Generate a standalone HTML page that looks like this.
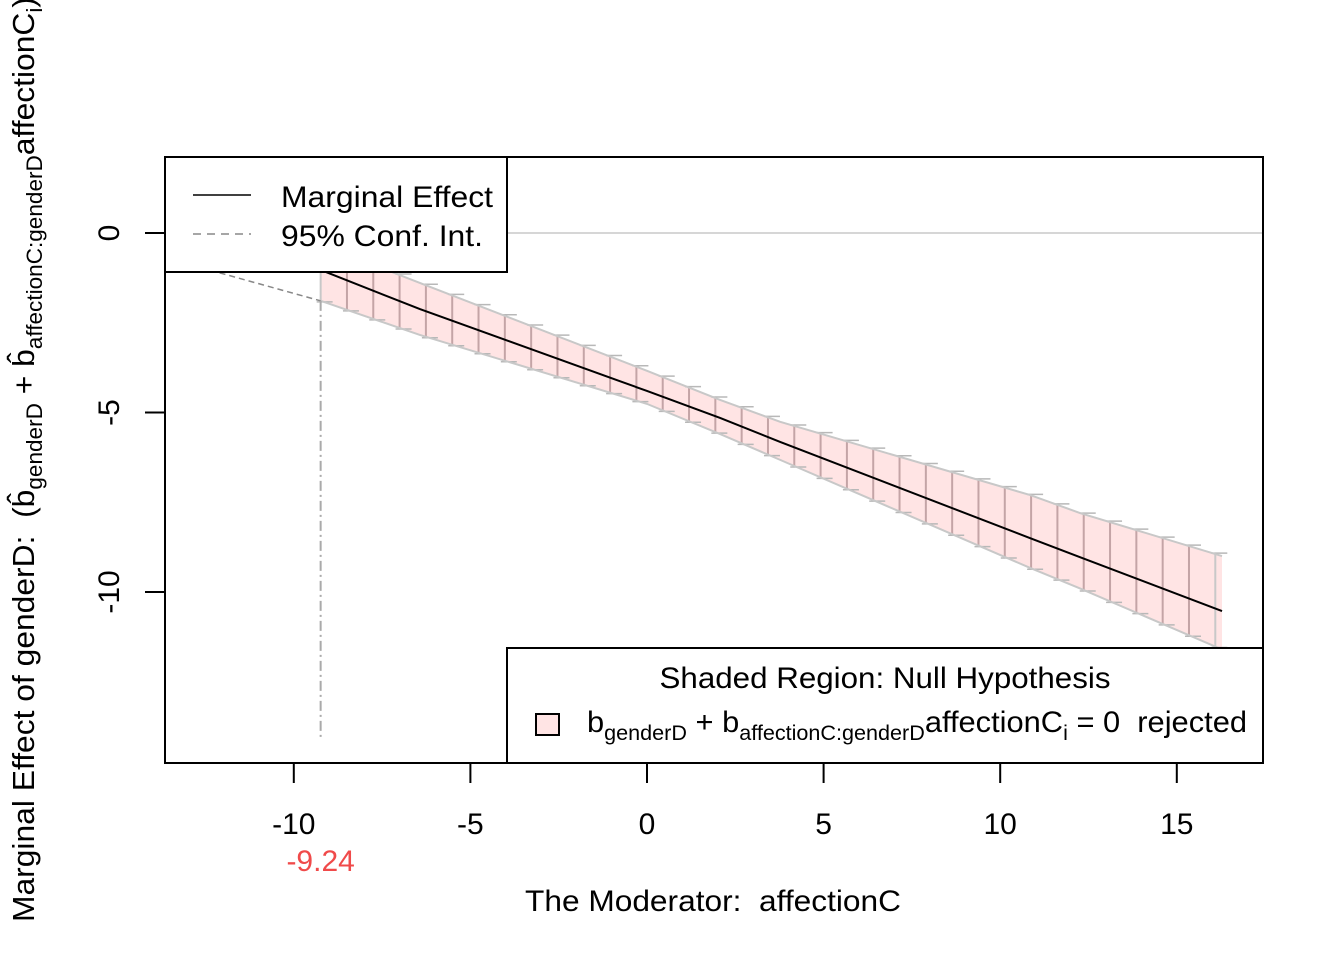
<!DOCTYPE html>
<html><head><meta charset="utf-8"><style>
html,body{margin:0;padding:0;background:#fff;}
svg{display:block;font-family:"Liberation Sans",Arial,sans-serif;}
text{white-space:pre;}
</style></head><body>
<svg id="chart" width="1344" height="960" viewBox="0 0 1344 960" xmlns="http://www.w3.org/2000/svg">
<g id="plot"></g>
<g id="axes"></g>
</svg>
<script>
const moderatorX = [-9.24, -6.43, 0, 2.07, 3.77, 10.85, 12.26, 16.28];
const effectEst = [-1.03, -2.12, -4.4, -5.15, -5.82, -8.5, -9.03, -10.53];
const ciLower = [-1.89, -2.84, -4.76, -5.6, -6.32, -9.33, -9.9, -11.6];
const ciUpper = [-0.32, -1.39, -3.84, -4.65, -5.26, -7.3, -7.8, -9.0];
const leftTailX = [-12.1, -9.24];
const leftTailLower = [-1.11, -1.89];
const xTicks = [-10, -5, 0, 5, 10, 15];
const xTickLabels = ["-10", "-5", "0", "5", "10", "15"];
const yTicks = [0, -5, -10];
const yTickLabels = ["0", "-5", "-10"];
const criticalValue = -9.24;
const hatchStep = 0.745;

const NS = "http://www.w3.org/2000/svg";
const X0 = 647, XS = 35.32, Y0 = 233, YS = 35.9;
const L = 165, R = 1263, T = 157, B = 763;
function xs(v){return X0 + v*XS;}
function ys(v){return Y0 - v*YS;}
function interp(arrX, arrY, v){
  for(let i=0;i<arrX.length-1;i++){
    if(v>=arrX[i] && v<=arrX[i+1]){const t=(v-arrX[i])/(arrX[i+1]-arrX[i]);return arrY[i]+t*(arrY[i+1]-arrY[i]);}
  }
  return v<arrX[0]?arrY[0]:arrY[arrY.length-1];
}
function mk(tag, attrs, parent){
  const e=document.createElementNS(NS,tag);
  for(const k in attrs) e.setAttribute(k, attrs[k]);
  parent.appendChild(e); return e;
}
const plot=document.getElementById('plot');
const axes=document.getElementById('axes');

const defs=mk('defs',{},plot);
const cp=mk('clipPath',{id:'clip'},defs);
mk('rect',{x:L,y:T,width:R-L,height:B-T},cp);
const g=mk('g',{'clip-path':'url(#clip)'},plot);

let zl=mk('line',{x1:L,x2:R,y1:ys(0),y2:ys(0),stroke:'#c8c8c8','stroke-width':1.5},g);



let pts=[];
moderatorX.forEach((x,i)=>pts.push(xs(x)+','+ys(ciUpper[i])));
for(let i=moderatorX.length-1;i>=0;i--) pts.push(xs(moderatorX[i])+','+ys(ciLower[i]));
let poly=mk('polygon',{points:pts.join(' '),fill:'#ffe4e4',stroke:'none'},g);



const x0=moderatorX[0], x1=moderatorX[moderatorX.length-1];
for(let v=x0; v<=x1+0.01; v+=hatchStep){
  const vv=Math.min(v,x1);
  const lo=interp(moderatorX,ciLower,vv), up=interp(moderatorX,ciUpper,vv);
  const first = vv===x0, last = Math.abs(vv-x1)<0.3;
  let hl=mk('line',{x1:xs(vv),x2:xs(vv),y1:ys(up),y2:ys(lo),stroke:(first||last)?'#c8c8c8':'#c4a4a6','stroke-width':2},g);
  
  
  let t1=mk('line',{x1:xs(vv)-4,x2:xs(vv)+12,y1:ys(up)-1,y2:ys(up)-1,stroke:'#b8b8b8','stroke-width':1.5},g);
  
  
  let t2=mk('line',{x1:xs(vv)-4,x2:xs(vv)+12,y1:ys(lo)+1,y2:ys(lo)+1,stroke:'#b8b8b8','stroke-width':1.5},g);
  
  
}
let up=mk('polyline',{points:moderatorX.map((x,i)=>xs(x)+','+ys(ciUpper[i])).join(' '),fill:'none',stroke:'#c8c8c8','stroke-width':2},g);


let lo=mk('polyline',{points:moderatorX.map((x,i)=>xs(x)+','+ys(ciLower[i])).join(' '),fill:'none',stroke:'#c8c8c8','stroke-width':2},g);


let lt=mk('polyline',{points:leftTailX.map((x,i)=>xs(x)+','+ys(leftTailLower[i])).join(' '),fill:'none',stroke:'#888','stroke-width':1.5,'stroke-dasharray':'6,4'},g);


let el=mk('polyline',{points:moderatorX.map((x,i)=>xs(x)+','+ys(effectEst[i])).join(' '),fill:'none',stroke:'#000','stroke-width':2},g);


let cv=mk('line',{x1:xs(criticalValue),x2:xs(criticalValue),y1:ys(interp(moderatorX,ciLower,criticalValue)),y2:740,stroke:'#aaa','stroke-width':2,'stroke-dasharray':'10,4,2,4'},g);



let fr=mk('rect',{x:L,y:T,width:R-L,height:B-T,fill:'none',stroke:'#000','stroke-width':2},axes);



xTicks.forEach((v,i)=>{
  let tk=mk('line',{x1:xs(v),x2:xs(v),y1:B,y2:B+20,stroke:'#000','stroke-width':2},axes);
  
  
  let tl=mk('text',{x:xs(v),y:834,'text-anchor':'middle','font-size':30},axes);
  tl.textContent=xTickLabels[i];
  
  
});
yTicks.forEach((v,i)=>{
  let tk=mk('line',{x1:L-20,x2:L,y1:ys(v),y2:ys(v),stroke:'#000','stroke-width':2},axes);
  
  
  let tl=mk('text',{x:0,y:0,'text-anchor':'middle','font-size':30,transform:'translate(119,'+ys(v)+') rotate(-90)'},axes);
  tl.textContent=yTickLabels[i];
  
  
});
let cl=mk('text',{x:xs(criticalValue),y:871,'text-anchor':'middle','font-size':30,fill:'#f04a4a'},axes);
cl.textContent=String(criticalValue);


</script>
<svg style="position:absolute;left:0;top:0" width="1344" height="960">
<g font-family="Liberation Sans, Arial, sans-serif">
<g>
<rect x="165" y="157" width="342" height="115" fill="#fff" stroke="#000" stroke-width="2"/>
<line x1="193" x2="251" y1="195" y2="195" stroke="#000" stroke-width="1.5"/>
<line x1="193" x2="251" y1="234" y2="234" stroke="#888" stroke-width="1.5" stroke-dasharray="8,6"/>
<text x="281" y="207" font-size="30" textLength="212" lengthAdjust="spacingAndGlyphs">Marginal Effect</text>
<text x="281" y="246" font-size="30" textLength="202" lengthAdjust="spacingAndGlyphs">95% Conf. Int.</text>
</g>
<g>
<rect x="507" y="648" width="756" height="115" fill="#fff" stroke="#000" stroke-width="2"/>
<text x="885" y="688" font-size="30" text-anchor="middle" textLength="451" lengthAdjust="spacingAndGlyphs">Shaded Region: Null Hypothesis</text>
<rect x="536" y="714" width="23" height="21" fill="#ffe4e4" stroke="#000" stroke-width="2"/>
<text x="587" y="732" font-size="30" textLength="660" lengthAdjust="spacingAndGlyphs">b<tspan font-size="21" dy="8">genderD</tspan><tspan dy="-8"> + b</tspan><tspan font-size="21" dy="8">affectionC:genderD</tspan><tspan dy="-8">affectionC</tspan><tspan font-size="21" dy="8">i</tspan><tspan dy="-8"> = 0  rejected</tspan></text>
</g>
<text x="525" y="911" font-size="30" textLength="376" lengthAdjust="spacingAndGlyphs">The Moderator:  affectionC</text>
<text transform="translate(34,922) rotate(-90)" font-size="31" textLength="925" lengthAdjust="spacingAndGlyphs">Marginal Effect of genderD:  (b̂<tspan font-size="22" dy="8">genderD</tspan><tspan dy="-8"> + b̂</tspan><tspan font-size="22" dy="8">affectionC:genderD</tspan><tspan dy="-8">affectionC</tspan><tspan font-size="22" dy="8">i</tspan><tspan dy="-8">)</tspan></text>
</g>
</svg>
</body></html>
